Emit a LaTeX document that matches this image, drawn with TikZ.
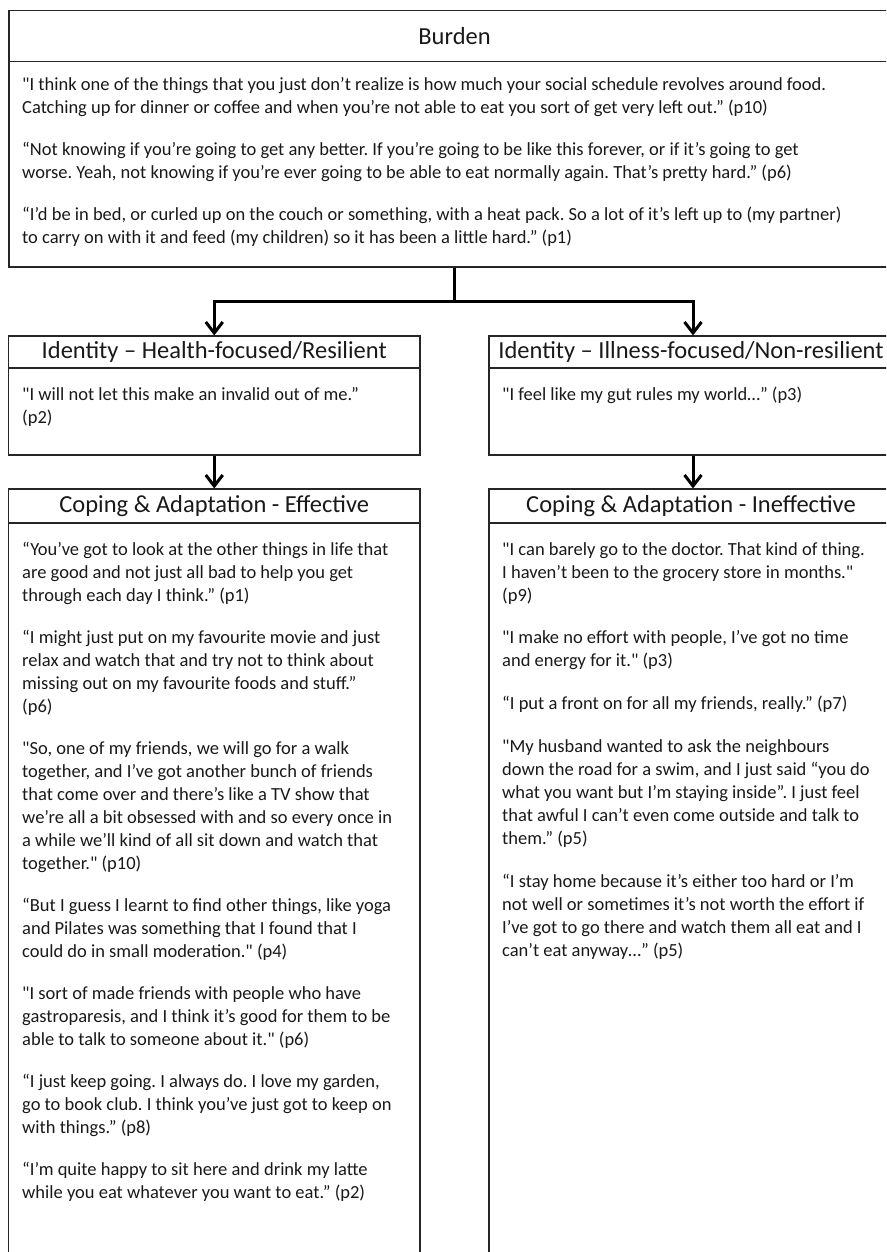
\documentclass[tikz,border=0pt]{standalone}
\usepackage{fontspec}
\setmainfont{Carlito}[Ligatures=TeXOff]
\usetikzlibrary{arrows.meta}
\frenchspacing
\begin{document}
\frenchspacing
\begin{tikzpicture}[x=1pt,y=-1pt,
  box/.style={draw=black!85, line width=1.1pt, inner sep=0pt, rectangle},
  rule/.style={draw=black!85, line width=1.1pt},
  title/.style={font=\fontsize{24.5}{28}\selectfont, inner sep=0pt, text=black!90},
  quote/.style={font=\fontsize{18.5}{23}\selectfont\frenchspacing, align=left, anchor=north west, inner sep=0pt, text=black!90},
  conn/.style={line width=3pt},
  arr/.style={line width=3pt, -{Straight Barb[length=11pt,width=17pt]}}
]
\clip (0,0) rectangle (886,1252);
% boxes
\node[box, minimum width=891pt, minimum height=256.5pt] (burden) at (454.5,138.75) {};
\node[box, minimum width=411.5pt, minimum height=119pt] (idL) at (214.25,395.5) {};
\node[box, minimum width=408pt, minimum height=119pt] (idR) at (693,395.5) {};
\node[box, minimum width=411.5pt, minimum height=781pt] (copL) at (214.25,879.5) {};
\node[box, minimum width=408pt, minimum height=781pt] (copR) at (693,879.5) {};
% dividers
\draw[rule] (burden.west |- 0,61.5) -- (burden.east |- 0,61.5);
\draw[rule] (idL.west |- 0,368) -- (idL.east |- 0,368);
\draw[rule] (idR.west |- 0,368) -- (idR.east |- 0,368);
\draw[rule] (copL.west |- 0,523) -- (copL.east |- 0,523);
\draw[rule] (copR.west |- 0,523) -- (copR.east |- 0,523);
% titles
\node[title] (tburden) at (454.5,36) {Burden};
\node[title] (tidL) at (214.25,352) {Identity – Health-focused/Resilient};
\node[title] (tidR) at (691,352) {Identity – Illness-focused/Non-resilient};
\node[title] (tcopL) at (214.25,506) {Coping \& Adaptation - Effective};
\node[title] (tcopR) at (691,506) {Coping \& Adaptation - Ineffective};
% quotes
\node[quote] (qburden) at (22,74.4) {\strut"I think one of the things that you just don’t realize is how much your social schedule revolves around food.\\
Catching up for dinner or coffee and when you’re not able to eat you sort of get very left out.” (p10)\\[19pt]
“Not knowing if you’re going to get any better. If you’re going to be like this forever, or if it’s going to get\\
worse. Yeah, not knowing if you’re ever going to be able to eat normally again. That’s pretty hard.” (p6)\\[19pt]
“I’d be in bed, or curled up on the couch or something, with a heat pack. So a lot of it’s left up to (my partner)\\
to carry on with it and feed (my children) so it has been a little hard.” (p1)};
\node[quote] (qidL) at (22,384.5) {\strut"I will not let this make an invalid out of me.”\\(p2)};
\node[quote] (qidR) at (502,384.5) {\strut"I feel like my gut rules my world…” (p3)};
\node[quote] (qcopL) at (22,539.5) {\strut“You’ve got to look at the other things in life that\\
are good and not just all bad to help you get\\
through each day I think.” (p1)\\[19pt]
“I might just put on my favourite movie and just\\
relax and watch that and try not to think about\\
missing out on my favourite foods and stuff.”\\
(p6)\\[19pt]
"So, one of my friends, we will go for a walk\\
together, and I’ve got another bunch of friends\\
that come over and there’s like a TV show that\\
we’re all a bit obsessed with and so every once in\\
a while we’ll kind of all sit down and watch that\\
together." (p10)\\[19pt]
“But I guess I learnt to find other things, like yoga\\
and Pilates was something that I found that I\\
could do in small moderation." (p4)\\[19pt]
"I sort of made friends with people who have\\
gastroparesis, and I think it’s good for them to be\\
able to talk to someone about it." (p6)\\[19pt]
“I just keep going. I always do. I love my garden,\\
go to book club. I think you’ve just got to keep on\\
with things.” (p8)\\[19pt]
“I’m quite happy to sit here and drink my latte\\
while you eat whatever you want to eat.” (p2)};
\node[quote] (qcopR) at (502,539.5) {\strut"I can barely go to the doctor. That kind of thing.\\
I haven’t been to the grocery store in months."\\
(p9)\\[19pt]
"I make no effort with people, I’ve got no time\\
and energy for it." (p3)\\[20pt]
“I put a front on for all my friends, really.” (p7)\\[20pt]
"My husband wanted to ask the neighbours\\
down the road for a swim, and I just said “you do\\
what you want but I’m staying inside”. I just feel\\
that awful I can’t even come outside and talk to\\
them.” (p5)\\[20pt]
“I stay home because it’s either too hard or I’m\\
not well or sometimes it’s not worth the effort if\\
I’ve got to go there and watch them all eat and I\\
can’t eat anyway…” (p5)};
% connectors
\draw[conn] (burden.south) -- ++(0,33.7) coordinate (split);
\draw[arr] (split) -| (idL.north);
\draw[arr] (split) -| (idR.north);
\draw[arr] (idL.south) -- (copL.north);
\draw[arr] (idR.south) -- (copR.north);
\end{tikzpicture}
\end{document}
